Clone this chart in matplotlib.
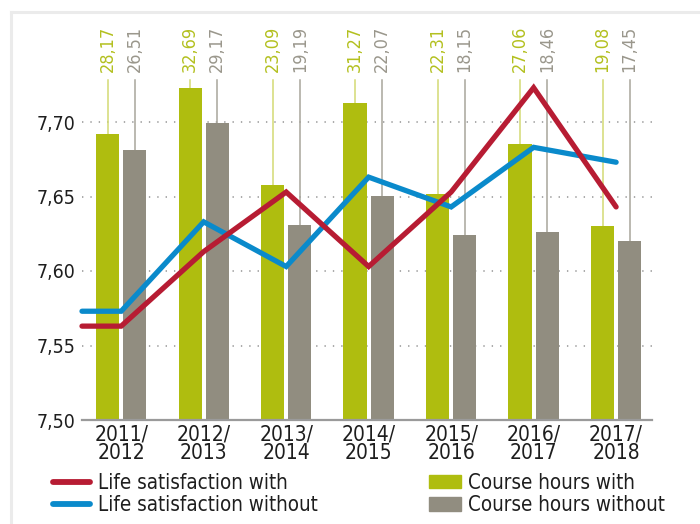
import os
import matplotlib
matplotlib.use("Agg")
import matplotlib.pyplot as plt
import matplotlib.font_manager as fm
from matplotlib.lines import Line2D
from matplotlib.patches import Patch
import numpy as np

# ---- data ----
years = ["2011/\n2012", "2012/\n2013", "2013/\n2014", "2014/\n2015",
         "2015/\n2016", "2016/\n2017", "2017/\n2018"]
life_with = [7.563, 7.613, 7.653, 7.603, 7.653, 7.723, 7.643]
life_without = [7.573, 7.633, 7.603, 7.663, 7.643, 7.683, 7.673]
bar_with = [7.692, 7.723, 7.658, 7.713, 7.652, 7.685, 7.630]
bar_without = [7.681, 7.699, 7.631, 7.650, 7.624, 7.626, 7.620]
hours_with = ["28,17", "32,69", "23,09", "31,27", "22,31", "27,06", "19,08"]
hours_without = ["26,51", "29,17", "19,19", "22,07", "18,15", "18,46", "17,45"]
yticks = [7.50, 7.55, 7.60, 7.65, 7.70]
ytick_labels = ["7,50", "7,55", "7,60", "7,65", "7,70"]

# ---- font ----
def pick_font():
    for f in fm.fontManager.ttflist:
        if os.path.basename(f.fname) == "DejaVuSansCondensed.ttf":
            return f.name, f.stretch
    for f in fm.fontManager.ttflist:
        if "LiberationSansNarrow-Regular" in os.path.basename(f.fname):
            return f.name, f.stretch
    return "DejaVu Sans", "normal"

fam, stretch = pick_font()
plt.rcParams["font.family"] = [fam, "DejaVu Sans"]
plt.rcParams["font.stretch"] = stretch

GREEN = "#afbd0f"
GRAY = "#918d80"
RED = "#b71c33"
BLUE = "#0a8acb"
GREEN_TXT = "#b3c01f"
GRAY_TXT = "#9a978c"
GREEN_LEAD = "#d3da74"
GRAY_LEAD = "#a8a59b"

fig = plt.figure(figsize=(7.0, 5.24), dpi=100)
ax = fig.add_axes([82 / 700, 1 - 420 / 524, (652 - 82) / 700, (420 - 47.5) / 524])

x = np.arange(len(years))
w = 0.28
off = 0.165
ax.set_xlim(-0.475, 6.435)
ax.set_ylim(7.5, 7.75)

ax.bar(x - off, np.array(bar_with) - 7.5, bottom=7.5, width=w, color=GREEN, zorder=2)
ax.bar(x + off, np.array(bar_without) - 7.5, bottom=7.5, width=w, color=GRAY, zorder=2)

lead_top = 7.7282
lab_y = 7.7335
for i in range(len(years)):
    ax.plot([x[i] - off] * 2, [bar_with[i], lead_top], color=GREEN_LEAD, lw=1.1, zorder=1)
    ax.plot([x[i] + off] * 2, [bar_without[i], lead_top], color=GRAY_LEAD, lw=1.1, zorder=1)
    ax.text(x[i] - off, lab_y, hours_with[i], rotation=90, ha="center", va="bottom",
            color=GREEN_TXT, fontsize=13, clip_on=False)
    ax.text(x[i] + off, lab_y, hours_without[i], rotation=90, ha="center", va="bottom",
            color=GRAY_TXT, fontsize=13, clip_on=False)

x0 = ax.get_xlim()[0]
lx = np.concatenate([[x0 + 0.0], x])
ax.plot(lx, [life_without[0]] + life_without, color=BLUE, lw=3.8, zorder=4,
        solid_capstyle="round", solid_joinstyle="miter", clip_on=False)
ax.plot(lx, [life_with[0]] + life_with, color=RED, lw=3.8, zorder=5,
        solid_capstyle="round", solid_joinstyle="miter", clip_on=False)

# grid
for yv in yticks[1:]:
    ax.axhline(yv, color="#aaaaaa", lw=1.4, linestyle=(0, (0.7, 3.6)), zorder=0)

for s in ["top", "right", "left"]:
    ax.spines[s].set_visible(False)
ax.spines["bottom"].set_color("#9a9a9a")
ax.spines["bottom"].set_linewidth(1.6)
ax.spines["bottom"].set_zorder(3)

ax.set_yticks(yticks)
ax.set_yticklabels(ytick_labels)
ax.set_xticks(x)
ax.set_xticklabels(years, linespacing=0.95)
ax.tick_params(axis="y", length=0, pad=5, labelsize=14, labelcolor="#1e1e1e")
ax.tick_params(axis="x", length=0, pad=3, labelsize=15, labelcolor="#1e1e1e")

# legends
h1 = [Line2D([0], [0], color=RED, lw=4.2, solid_capstyle="round"),
      Line2D([0], [0], color=BLUE, lw=4.2, solid_capstyle="round")]
leg1 = fig.legend(h1, ["Life satisfaction with", "Life satisfaction without"],
                  loc="center left", bbox_to_anchor=(53 / 700, 1 - 494 / 524),
                  frameon=False, fontsize=14.8, handlelength=1.8, handletextpad=0.37,
                  labelspacing=0.1, borderpad=0, borderaxespad=0)
h2 = [Patch(color=GREEN), Patch(color=GRAY)]
leg2 = fig.legend(h2, ["Course hours with", "Course hours without"],
                  loc="center left", bbox_to_anchor=(429 / 700, 1 - 494 / 524),
                  frameon=False, fontsize=14.8, handlelength=1.55, handletextpad=0.37,
                  handleheight=0.63, labelspacing=0.1, borderpad=0, borderaxespad=0)
for lg in (leg1, leg2):
    for t in lg.get_texts():
        t.set_color("#1e1e1e")

# frame border
fig.add_artist(Line2D([10.5 / 700, 1], [1 - 11.5 / 524] * 2, transform=fig.transFigure,
                      color="#ebebeb", lw=2.2))
fig.add_artist(Line2D([10.5 / 700] * 2, [0, 1 - 11.5 / 524], transform=fig.transFigure,
                      color="#ebebeb", lw=2.2))

fig.savefig("out.png", dpi=100)
